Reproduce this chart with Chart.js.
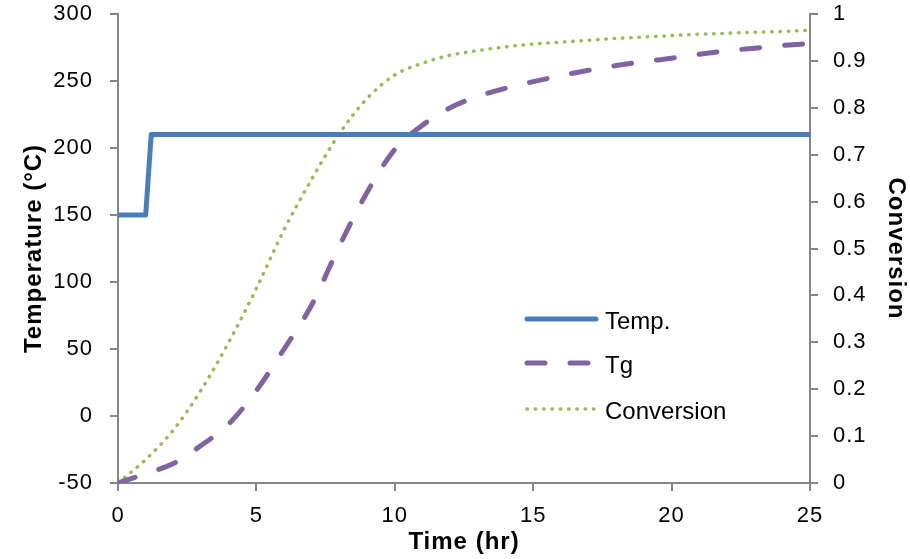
<!DOCTYPE html>
<html>
<head>
<meta charset="utf-8">
<script src="https://cdn.jsdelivr.net/npm/chart.js@4.4.0/dist/chart.umd.min.js"></script>
<style>
  html, body { margin: 0; padding: 0; background: #fff; }
  #wrap { width: 910px; height: 559px; }
</style>
</head>
<body>
<div id="wrap"><canvas id="cureChart" width="910" height="559"></canvas></div>
<script>
// data
const tempTime = [0, 1, 1.2, 25];
const tempValues = [150, 150, 210, 210];

const timeHr = [0, 1, 2, 3, 4, 5, 6, 7, 8, 9, 10, 11, 12, 13, 14, 15, 16, 17, 18, 19, 20, 21, 22, 23, 24, 25];
const tgValues = [-50, -43, -35.5, -22, -6, 19, 50, 83, 127, 167, 199, 217, 230, 238.5, 244.5, 249.5, 254, 258, 261.5, 264.5, 267, 270, 272.5, 274.5, 276.5, 278];
const conversionValues = [0, 0.05, 0.113, 0.198, 0.3, 0.415, 0.54, 0.648, 0.745, 0.82, 0.87, 0.895, 0.912, 0.922, 0.93, 0.936, 0.94, 0.944, 0.948, 0.951, 0.954, 0.957, 0.959, 0.961, 0.963, 0.965];

const xTicks = [0, 5, 10, 15, 20, 25];
const leftTicks = [-50, 0, 50, 100, 150, 200, 250, 300];
const rightTicks = [0, 0.1, 0.2, 0.3, 0.4, 0.5, 0.6, 0.7, 0.8, 0.9, 1];

const axisGray = '#868686';
const family = '"Liberation Sans", Arial, sans-serif';
const tickFont = { family: family, size: 22 };
const titleFont = { family: family, size: 24, weight: 'bold' };
const legendFontSize = 24;

const toPoints = (xs, ys) => xs.map((x, i) => ({ x: x, y: ys[i] }));
const useTicks = (list) => (scale) => { scale.ticks = list.map(v => ({ value: v })); };
// fixed box sizes so the plot area sits where the original one does
const fitY = (w) => (s) => { s.width = w; s.paddingTop = 14; s.paddingBottom = 0; };

// the original text is set a little loose
const looseText = {
  id: 'looseText',
  beforeDraw(chart) { chart.ctx.letterSpacing = '1px'; },
  afterDraw(chart) { chart.ctx.letterSpacing = '0px'; }
};

// legend drawn inside the plot area, like the original
const innerLegend = {
  id: 'innerLegend',
  afterDraw(chart) {
    const ctx = chart.ctx;
    const x0 = 527, x1 = 596, textX = 605;
    const rows = [319, 363, 409];
    chart.data.datasets.forEach((ds, i) => {
      const y = rows[i];
      ctx.save();
      ctx.strokeStyle = ds.borderColor;
      ctx.lineWidth = ds.borderWidth;
      ctx.lineCap = 'round';
      ctx.setLineDash(ds.borderDash || []);
      ctx.beginPath();
      ctx.moveTo(x0, y);
      ctx.lineTo(x1, y);
      ctx.stroke();
      ctx.setLineDash([]);
      ctx.fillStyle = '#000';
      ctx.font = legendFontSize + 'px ' + family;
      ctx.textBaseline = 'middle';
      ctx.fillText(ds.label, textX, y + 3);
      ctx.restore();
    });
  }
};

new Chart(document.getElementById('cureChart').getContext('2d'), {
  type: 'line',
  data: {
    datasets: [{
      label: 'Temp.',
      data: toPoints(tempTime, tempValues),
      yAxisID: 'y',
      borderColor: '#4A7EBB',
      borderWidth: 5,
      pointRadius: 0,
      tension: 0,
      borderJoinStyle: 'round'
    }, {
      label: 'Tg',
      data: toPoints(timeHr, tgValues),
      yAxisID: 'y',
      borderColor: '#8064A2',
      borderWidth: 5,
      borderDash: [18, 25],
      borderCapStyle: 'round',
      pointRadius: 0,
      cubicInterpolationMode: 'monotone'
    }, {
      label: 'Conversion',
      data: toPoints(timeHr, conversionValues),
      yAxisID: 'y1',
      borderColor: '#9BBB59',
      borderWidth: 3.5,
      borderDash: [0.5, 7.8],
      borderCapStyle: 'round',
      pointRadius: 0,
      cubicInterpolationMode: 'monotone'
    }]
  },
  options: {
    responsive: false,
    animation: false,
    layout: { padding: 0 },
    plugins: {
      legend: { display: false },
      tooltip: { enabled: false }
    },
    scales: {
      x: {
        type: 'linear',
        min: 0,
        max: 25,
        afterBuildTicks: useTicks(xTicks),
        afterFit: (s) => { s.height = 76; },
        grid: { drawOnChartArea: false, tickLength: 8, color: axisGray, lineWidth: 2 },
        border: { color: axisGray, width: 2 },
        ticks: { color: '#000', font: tickFont, padding: 12, maxRotation: 0 },
        title: { display: true, text: 'Time (hr)', color: '#000', font: titleFont, padding: { top: 0, bottom: 2 } }
      },
      y: {
        position: 'left',
        min: -50,
        max: 300,
        afterBuildTicks: useTicks(leftTicks),
        afterFit: fitY(118),
        grid: { drawOnChartArea: false, tickLength: 8, color: axisGray, lineWidth: 2 },
        border: { color: axisGray, width: 2 },
        ticks: { color: '#000', font: tickFont, padding: 17 },
        title: { display: true, text: 'Temperature (°C)', color: '#000', font: titleFont, padding: { top: 20, bottom: 0 } }
      },
      y1: {
        position: 'right',
        min: 0,
        max: 1,
        afterBuildTicks: useTicks(rightTicks),
        afterFit: fitY(100),
        grid: { drawOnChartArea: false, tickLength: 8, color: axisGray, lineWidth: 2 },
        border: { color: axisGray, width: 2 },
        ticks: { color: '#000', font: tickFont, padding: 15, callback: (v) => String(v) },
        title: { display: true, text: 'Conversion', color: '#000', font: titleFont, padding: { top: 0, bottom: 5 } }
      }
    }
  },
  plugins: [looseText, innerLegend]
});
</script>
</body>
</html>
